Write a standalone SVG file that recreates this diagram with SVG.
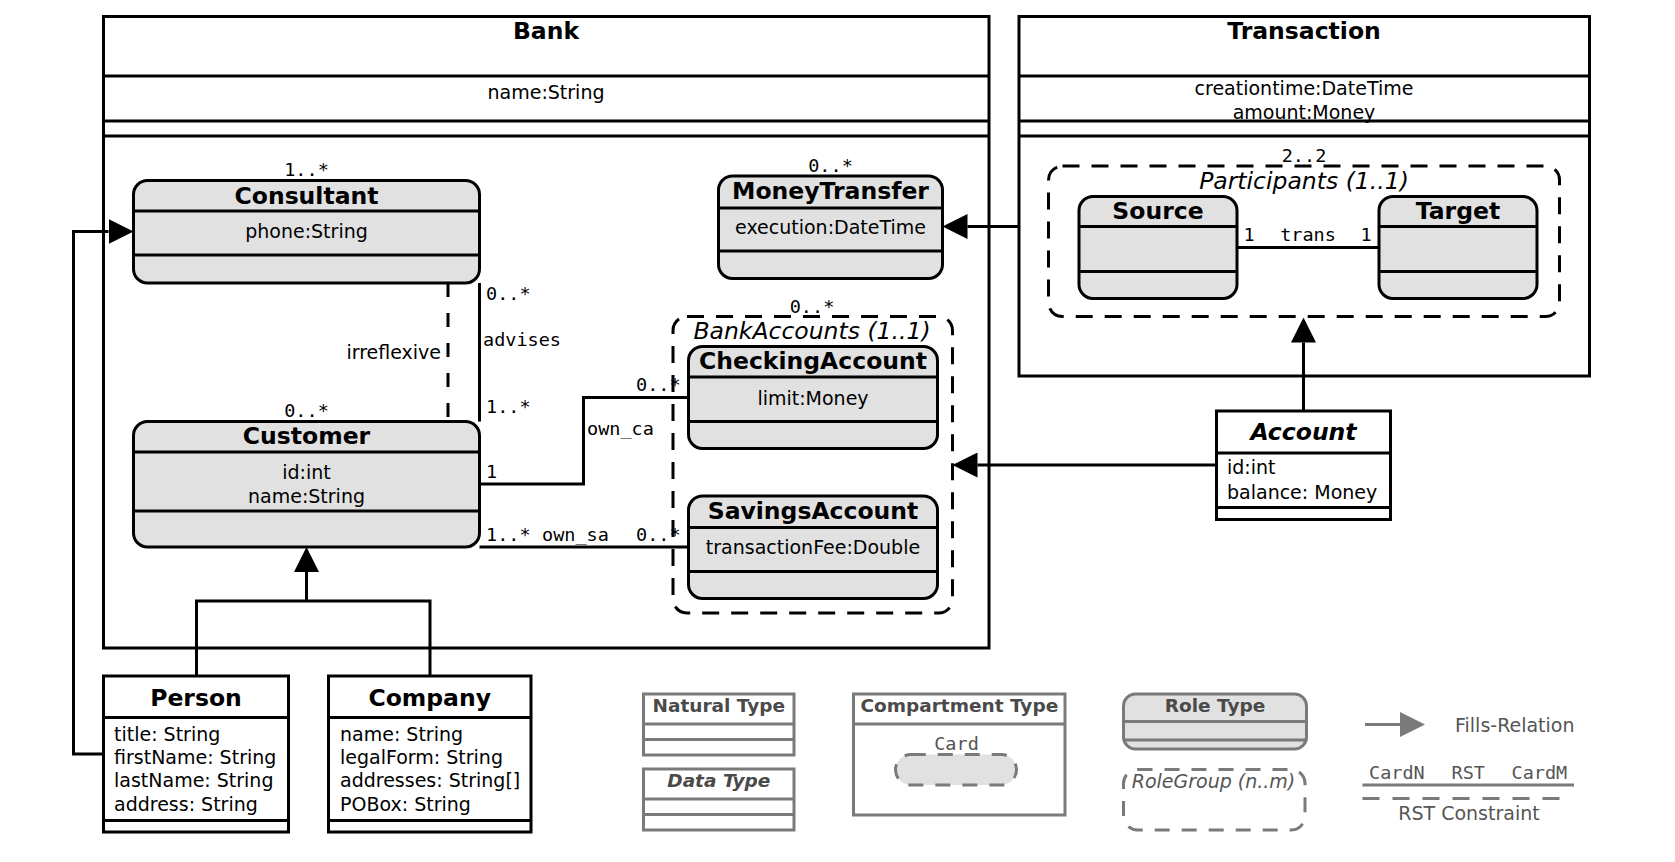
<svg xmlns="http://www.w3.org/2000/svg" width="1675" height="862" viewBox="0 0 1675 862">
<defs>
<style>
.box{fill:#fff;stroke:#000;stroke-width:3}
.role{fill:#e1e1e1;stroke:#000;stroke-width:3}
.ln{stroke:#000;stroke-width:3;fill:none}
.grp{fill:none;stroke:#000;stroke-width:3;stroke-dasharray:17 12}
.h{font-family:"DejaVu Sans",sans-serif;font-weight:bold;font-size:23.5px;text-anchor:middle;fill:#000}
.a{font-family:"DejaVu Sans",sans-serif;font-size:19px;fill:#000}
.ac{font-family:"DejaVu Sans",sans-serif;font-size:19px;fill:#000;text-anchor:middle}
.m{font-family:"DejaVu Sans Mono",monospace;font-size:18.5px;fill:#000}
.mc{font-family:"DejaVu Sans Mono",monospace;font-size:18.5px;fill:#000;text-anchor:middle}
.g{font-family:"DejaVu Sans",sans-serif;font-style:italic;font-size:23.5px;text-anchor:middle;fill:#000}
.con{stroke:#000;stroke-width:3;fill:none}
.lbox{fill:#fff;stroke:#7a7a7a;stroke-width:3}
.lrole{fill:#e1e1e1;stroke:#7a7a7a;stroke-width:3}
.lln{stroke:#7a7a7a;stroke-width:3;fill:none}
.lh{font-family:"DejaVu Sans",sans-serif;font-weight:bold;font-size:18.5px;text-anchor:middle;fill:#4a4a4a}
.lt{font-family:"DejaVu Sans",sans-serif;font-size:19px;fill:#555}
.lm{font-family:"DejaVu Sans Mono",monospace;font-size:18.5px;fill:#555}
</style>
<marker id="fill" viewBox="0 0 25 25" refX="0" refY="12.5" markerWidth="25" markerHeight="25" markerUnits="userSpaceOnUse" orient="auto"><path d="M0,0 L25,12.5 L0,25 z" fill="#000"/></marker>
<marker id="fillg" viewBox="0 0 25 25" refX="0" refY="12.5" markerWidth="25" markerHeight="25" markerUnits="userSpaceOnUse" orient="auto"><path d="M0,0 L25,12.5 L0,25 z" fill="#7a7a7a"/></marker>
</defs>

<g id="bank">
<rect class="box" x="103.5" y="16.5" width="885.5" height="631.5"/>
<path class="ln" d="M103.5,76H989M103.5,121H989M103.5,136H989"/>
<text class="h" x="546" y="38.5">Bank</text>
<text class="ac" x="546" y="99">name:String</text>
</g>

<g id="transaction">
<rect class="box" x="1019" y="16.5" width="570.5" height="359.5"/>
<path class="ln" d="M1019,76H1589.5M1019,121H1589.5M1019,136H1589.5"/>
<text class="h" x="1304" y="38.5">Transaction</text>
<text class="ac" x="1304" y="95">creationtime:DateTime</text>
<text class="ac" x="1304" y="119">amount:Money</text>
</g>

<g id="participants">
<rect class="grp" x="1048.5" y="166" width="511" height="150.5" rx="14"/>
<text class="mc" x="1304" y="162">2..2</text>
<text class="g" x="1304" y="189">Participants (1..1)</text>
</g>

<g id="source">
<rect class="role" x="1079" y="196.5" width="158" height="102" rx="14"/>
<path class="ln" d="M1079,226.5H1237M1079,271.5H1237"/>
<text class="h" x="1158" y="218.5">Source</text>
</g>

<g id="target">
<rect class="role" x="1379" y="196.5" width="158" height="102" rx="14"/>
<path class="ln" d="M1379,226.5H1537M1379,271.5H1537"/>
<text class="h" x="1458" y="218.5">Target</text>
</g>

<g id="consultant">
<rect class="role" x="133.5" y="180.5" width="346" height="102.5" rx="14"/>
<path class="ln" d="M133.5,211H479.5M133.5,255H479.5"/>
<text class="h" x="306.5" y="203.5">Consultant</text>
<text class="ac" x="306.5" y="238">phone:String</text>
<text class="mc" x="306.5" y="176">1..*</text>
</g>

<g id="customer">
<rect class="role" x="133.5" y="421.5" width="346" height="125.5" rx="14"/>
<path class="ln" d="M133.5,452H479.5M133.5,511H479.5"/>
<text class="h" x="306.5" y="444">Customer</text>
<text class="ac" x="306.5" y="479">id:int</text>
<text class="ac" x="306.5" y="502.5">name:String</text>
<text class="mc" x="306.5" y="417">0..*</text>
</g>

<g id="moneytransfer">
<rect class="role" x="718.5" y="176" width="224" height="102.5" rx="14"/>
<path class="ln" d="M718.5,208H942.5M718.5,251H942.5"/>
<text class="h" x="830.5" y="199">MoneyTransfer</text>
<text class="ac" x="830.5" y="234">execution:DateTime</text>
<text class="mc" x="830.5" y="171.5">0..*</text>
</g>

<g id="bankaccounts">
<rect class="grp" x="673" y="316.5" width="279.5" height="296.5" rx="14"/>
<text class="mc" x="812" y="312.5">0..*</text>
<text class="g" x="812" y="339">BankAccounts (1..1)</text>
</g>

<g id="checkingaccount">
<rect class="role" x="688.5" y="346.5" width="249" height="102" rx="14"/>
<path class="ln" d="M688.5,377H937.5M688.5,421.5H937.5"/>
<text class="h" x="813" y="368.5">CheckingAccount</text>
<text class="ac" x="813" y="405">limit:Money</text>
</g>

<g id="savingsaccount">
<rect class="role" x="688.5" y="496" width="249" height="102.5" rx="14"/>
<path class="ln" d="M688.5,527.5H937.5M688.5,571.5H937.5"/>
<text class="h" x="813" y="518.5">SavingsAccount</text>
<text class="ac" x="813" y="553.5">transactionFee:Double</text>
</g>

<g id="account">
<rect class="box" x="1216.5" y="411" width="174" height="108.5"/>
<path class="ln" d="M1216.5,453H1390.5M1216.5,507.5H1390.5"/>
<text class="h" x="1303.5" y="440" font-style="italic">Account</text>
<text class="a" x="1227" y="474">id:int</text>
<text class="a" x="1227" y="498.5">balance: Money</text>
</g>

<g id="person">
<rect class="box" x="103.5" y="676" width="185" height="156"/>
<path class="ln" d="M103.5,717.5H288.5M103.5,820.5H288.5"/>
<text class="h" x="196" y="705.5">Person</text>
<text class="a" x="114" y="740.5">title: String</text>
<text class="a" x="114" y="763.5">firstName: String</text>
<text class="a" x="114" y="787">lastName: String</text>
<text class="a" x="114" y="810.5">address: String</text>
</g>

<g id="company">
<rect class="box" x="328.5" y="676" width="202.5" height="156"/>
<path class="ln" d="M328.5,717.5H531M328.5,820.5H531"/>
<text class="h" x="429.7" y="705.5">Company</text>
<text class="a" x="340" y="740.5">name: String</text>
<text class="a" x="340" y="763.5">legalForm: String</text>
<text class="a" x="340" y="787">addresses: String[]</text>
<text class="a" x="340" y="810.5">POBox: String</text>
</g>

<g id="connectors">
<line class="con" x1="479.5" y1="283" x2="479.5" y2="421.5"/>
<line class="con" x1="448" y1="283" x2="448" y2="421.5" stroke-dasharray="14 16"/>
<text class="a" x="441" y="359" font-size="23" text-anchor="end">irreflexive</text>
<text class="m" x="486" y="300">0..*</text>
<text class="m" x="483" y="345.5" font-size="19">advises</text>
<text class="m" x="486" y="413">1..*</text>

<path class="con" d="M479.5,484H583.5V397.5H688.5"/>
<text class="m" x="486" y="478">1</text>
<text class="m" x="587" y="435">own_ca</text>
<text class="m" x="636" y="391">0..*</text>

<line class="con" x1="479.5" y1="547" x2="688.5" y2="547"/>
<text class="m" x="486" y="541">1..*</text>
<text class="m" x="542" y="541">own_sa</text>
<text class="m" x="636" y="541">0..*</text>

<line class="con" x1="1237" y1="247.5" x2="1379" y2="247.5"/>
<text class="mc" x="1249" y="241">1</text>
<text class="mc" x="1308" y="241">trans</text>
<text class="mc" x="1366" y="241">1</text>

<path class="con" d="M196.5,676V601H430V676"/>
<path class="con" d="M306.5,601V572" marker-end="url(#fill)"/>
<path class="con" d="M103.5,754H73.5V231.5H108.5" marker-end="url(#fill)"/>
<path class="con" d="M1019,226.5H967.5" marker-end="url(#fill)"/>
<path class="con" d="M1216.5,465H977.5" marker-end="url(#fill)"/>
<path class="con" d="M1303.5,411V342.5" marker-end="url(#fill)"/>
</g>

<g id="legend-natural">
<rect class="lbox" x="643.5" y="694" width="150.5" height="61"/>
<path class="lln" d="M643.5,724H794M643.5,739.5H794"/>
<text class="lh" x="718.8" y="712">Natural Type</text>
</g>
<g id="legend-data">
<rect class="lbox" x="643.5" y="769" width="150.5" height="61"/>
<path class="lln" d="M643.5,799H794M643.5,814.5H794"/>
<text class="lh" x="718.8" y="786.5" font-style="italic">Data Type</text>
</g>
<g id="legend-compartment">
<rect class="lbox" x="853.5" y="694" width="211.5" height="121"/>
<path class="lln" d="M853.5,724H1065"/>
<text class="lh" x="959.3" y="712">Compartment Type</text>
<text class="lm" x="956.5" y="750" text-anchor="middle" font-size="18">Card</text>
<rect x="895.5" y="754.5" width="121" height="30.5" rx="15.25" fill="#e1e1e1" stroke="#7a7a7a" stroke-width="3" stroke-dasharray="15 12"/>
</g>
<g id="legend-role">
<rect class="lrole" x="1123.5" y="694" width="183" height="55" rx="12"/>
<path class="lln" d="M1123.5,721.5H1306.5M1123.5,740H1306.5"/>
<text class="lh" x="1215" y="712">Role Type</text>
</g>
<g id="legend-rolegroup">
<rect x="1123.5" y="769.5" width="181.5" height="60.5" rx="14" fill="none" stroke="#7a7a7a" stroke-width="3" stroke-dasharray="15 12"/>
<text class="lt" x="1213.5" y="787.5" text-anchor="middle" font-style="italic" font-size="18.7">RoleGroup (n..m)</text>
</g>
<g id="legend-fills">
<path class="lln" d="M1365,724.5H1400" marker-end="url(#fillg)"/>
<text class="lt" x="1455" y="731.5" font-size="19.4">Fills-Relation</text>
</g>
<g id="legend-rst">
<text class="lm" x="1369" y="779">CardN</text>
<text class="lm" x="1451.5" y="779">RST</text>
<text class="lm" x="1511.5" y="779">CardM</text>
<line class="lln" x1="1362.5" y1="785" x2="1574" y2="785"/>
<line class="lln" x1="1362.5" y1="798.5" x2="1560" y2="798.5" stroke-dasharray="17 13"/>
<text class="lt" x="1469" y="819.5" font-size="25.5" text-anchor="middle">RST Constraint</text>
</g>
</svg>
